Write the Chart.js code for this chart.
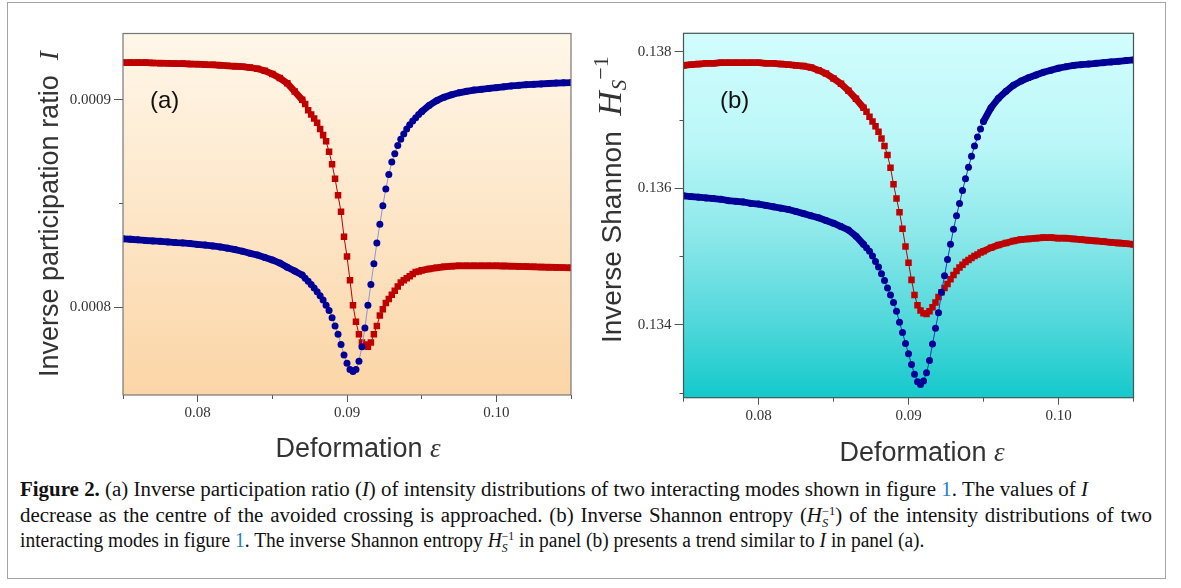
<!DOCTYPE html>
<html>
<head>
<meta charset="utf-8">
<script src="https://cdn.jsdelivr.net/npm/chart.js@4.4.1/dist/chart.umd.min.js"></script>
<style>
  body { margin: 0; background: #fff; }
  #page { position: relative; width: 1181px; height: 588px; overflow: hidden; }
  #frame { position: absolute; left: 7px; top: 2px; width: 1157px; height: 575px; border: 1px solid #a4a4a4; }
  canvas { position: absolute; top: 0; }
  #chartA { left: 0; }
  #chartB { left: 590px; }
  .ytitle { position: absolute; transform-origin: 0 0; transform: rotate(-90deg); white-space: nowrap;
            font: 27px "Liberation Sans", Arial, sans-serif; line-height: 27px; color: #333; }
  .xtitle { position: absolute; white-space: nowrap; font: 27px "Liberation Sans", Arial, sans-serif;
            line-height: 27px; color: #333; transform: translateX(-50%); }
  .math { font-family: "Liberation Serif", serif; font-style: italic; }
  .hb { font-size: 34px; line-height: 0; }
  .sb { font-size: 21px; line-height: 0; vertical-align: -5px; margin-left: 1px; }
  .sp { font-size: 22px; line-height: 0; vertical-align: 13px; font-style: normal; }
  .panel { position: absolute; font: 24px "Liberation Sans", Arial, sans-serif; line-height: 24px; color: #111; }
  .cap { position: absolute; left: 20px; white-space: nowrap; font: 20px "Liberation Serif", serif;
         line-height: 20px; color: #111; transform-origin: 0 0; }
  .lnk { color: #2a7fc1; }
  .st { display: inline-block; vertical-align: -5px; line-height: 1; font-size: 12px; }
  .st span { display: block; }
</style>
</head>
<body>
<div id="page">
  <div id="frame"></div>
  <canvas id="chartA" width="590" height="470"></canvas>
  <canvas id="chartB" width="591" height="470"></canvas>

  <div class="ytitle" style="left:36px; top:377px;">Inverse participation ratio&nbsp; <span class="math">I</span></div>
  <div class="ytitle" style="left:598px; top:343px; font-size:28px; line-height:28px;">Inverse Shannon&nbsp; <span class="math hb">H</span><span class="math sb">S</span><span class="math sp">−1</span></div>
  <div class="xtitle" style="left:358px; top:435px;">Deformation <span class="math">ε</span></div>
  <div class="xtitle" style="left:922px; top:439px;">Deformation <span class="math">ε</span></div>
  <div class="panel" style="left:150px; top:88px;">(a)</div>
  <div class="panel" style="left:720px; top:88px;">(b)</div>

  <div class="cap" style="top:479px;"><b>Figure 2.</b> (a) Inverse participation ratio (<i>I</i>) of intensity distributions of two interacting modes shown in figure <span class="lnk">1</span>. The values of <i>I</i></div>
  <div class="cap" style="top:505px;">decrease as the centre of the avoided crossing is approached. (b) Inverse Shannon entropy (<i>H</i><span class="st"><span>−1</span><span><i>S</i></span></span>) of the intensity distributions of two</div>
  <div class="cap" style="top:530px;">interacting modes in figure <span class="lnk">1</span>. The inverse Shannon entropy <i>H</i><span class="st"><span>−1</span><span><i>S</i></span></span> in panel (b) presents a trend similar to <i>I</i> in panel (a).</div>
</div>

<script>
// deformation values, coarse on the flat parts, fine through the avoided crossing
const epsilon = [
  0.075, 0.0755, 0.076, 0.0765, 0.077, 0.0775, 0.078, 0.0785, 0.079, 0.0795, 0.08, 0.0805,
  0.081, 0.0815, 0.082, 0.0825, 0.083, 0.0835, 0.084, 0.0845, 0.085, 0.0855, 0.086, 0.0865,
  0.087, 0.0872, 0.0874, 0.0876, 0.0878, 0.088, 0.0882, 0.0884, 0.0886, 0.0888, 0.089, 0.0892,
  0.0894, 0.0896, 0.0898, 0.09, 0.0902, 0.0904, 0.0906, 0.0908, 0.091, 0.0912, 0.0914, 0.0916,
  0.0918, 0.092, 0.0922, 0.0924, 0.0926, 0.0928, 0.093, 0.0932, 0.0934, 0.0936, 0.0938, 0.094,
  0.0942, 0.0944, 0.0946, 0.0948, 0.095,
  0.0955, 0.096, 0.0965, 0.097, 0.0975, 0.098, 0.0985, 0.099, 0.0995, 0.1, 0.1005, 0.101,
  0.1015, 0.102, 0.1025, 0.103, 0.1035, 0.104, 0.1045, 0.105,
];

// (a) inverse participation ratio
const iprRed = [
  0.000918, 0.000918, 0.000918, 0.000918, 0.0009178, 0.0009177, 0.0009176, 0.0009175, 0.0009175, 0.0009173, 0.0009172, 0.000917,
  0.0009169, 0.0009167, 0.0009164, 0.0009162, 0.000916, 0.0009156, 0.000915, 0.000914, 0.0009125, 0.0009105, 0.000908, 0.000904,
  0.0009, 0.000898, 0.000895, 0.000893, 0.000891, 0.000889, 0.000886, 0.000883, 0.00088, 0.000875, 0.000869, 0.000862,
  0.000854, 0.000846, 0.000834, 0.0008245, 0.000813, 0.000801, 0.000793, 0.000787, 0.000783, 0.000782, 0.000781, 0.000783,
  0.000787, 0.000791, 0.000796, 0.000799, 0.000802, 0.000804, 0.000806, 0.000808, 0.00081, 0.000812, 0.000813, 0.000814,
  0.000815, 0.000816, 0.000817, 0.0008172, 0.0008178,
  0.0008185, 0.000819, 0.0008195, 0.0008198, 0.00082, 0.00082, 0.00082, 0.00082, 0.00082, 0.00082, 0.0008199, 0.0008198,
  0.0008197, 0.0008196, 0.0008195, 0.0008194, 0.0008193, 0.0008192, 0.0008191, 0.000819,
];
const iprBlue = [
  0.000833, 0.0008328, 0.0008325, 0.0008322, 0.000832, 0.0008318, 0.0008315, 0.0008312, 0.000831, 0.0008307, 0.0008303, 0.00083,
  0.0008296, 0.0008291, 0.0008285, 0.0008278, 0.000827, 0.000826, 0.0008252, 0.000824, 0.0008228, 0.0008213, 0.0008193, 0.0008175,
  0.0008155, 0.000814, 0.0008125, 0.000811, 0.0008093, 0.0008075, 0.0008055, 0.0008035, 0.000801, 0.0007985, 0.000795, 0.000791,
  0.000787, 0.000782, 0.000777, 0.000773, 0.00077, 0.000769, 0.00077, 0.000774, 0.000781, 0.00079, 0.000801, 0.000811,
  0.000821, 0.000831, 0.00084, 0.000849, 0.000857, 0.000864, 0.00087, 0.000874, 0.000878, 0.000881, 0.0008835, 0.000886,
  0.000888, 0.0008898, 0.0008914, 0.0008929, 0.0008943,
  0.0008973, 0.0008996, 0.0009013, 0.0009025, 0.0009034, 0.0009041, 0.0009047, 0.0009051, 0.0009055, 0.0009059, 0.0009063, 0.0009067,
  0.000907, 0.0009073, 0.0009075, 0.0009077, 0.0009079, 0.0009081, 0.0009082, 0.0009083,
];

// (b) inverse Shannon entropy
const shannonRed = [
  0.1378, 0.13781, 0.13782, 0.13783, 0.13783, 0.13784, 0.13784, 0.13784, 0.13784, 0.13784, 0.13784, 0.13783,
  0.13783, 0.13782, 0.13781, 0.1378, 0.13779, 0.13777, 0.13773, 0.13768, 0.13761, 0.13753, 0.13743, 0.13731,
  0.13718, 0.13712, 0.13705, 0.13698, 0.13691, 0.13683, 0.13673, 0.13662, 0.13649, 0.1363, 0.13606, 0.13585,
  0.13565, 0.13541, 0.13515, 0.13491, 0.13466, 0.13444, 0.13429, 0.13421, 0.13417, 0.13416, 0.1342, 0.13426,
  0.13433, 0.13441, 0.13448, 0.13454, 0.1346, 0.13467, 0.13473, 0.13479, 0.13484, 0.13488, 0.13492, 0.13495,
  0.13498, 0.13501, 0.13503, 0.13506, 0.13508,
  0.13513, 0.13517, 0.1352, 0.13523, 0.13525, 0.13526, 0.13527, 0.13528, 0.13528, 0.13527, 0.13527, 0.13526,
  0.13525, 0.13524, 0.13523, 0.13522, 0.13521, 0.1352, 0.13519, 0.13518,
];
const shannonBlue = [
  0.13589, 0.13588, 0.13587, 0.13586, 0.13585, 0.13584, 0.13582, 0.13581, 0.1358, 0.13578, 0.13577, 0.13575,
  0.13573, 0.13571, 0.13569, 0.13566, 0.13563, 0.1356, 0.13557, 0.13553, 0.13549, 0.13544, 0.13539, 0.1353,
  0.13518, 0.13513, 0.13508, 0.13501, 0.13493, 0.13485, 0.13475, 0.13465, 0.13454, 0.13444, 0.13433, 0.1342,
  0.13404, 0.13389, 0.13373, 0.13358, 0.13342, 0.13328, 0.13317, 0.13313, 0.13318, 0.1333, 0.13348, 0.13372,
  0.13395, 0.13418, 0.13448, 0.13472, 0.13496, 0.13518, 0.1354, 0.1356, 0.13578, 0.13597, 0.13614, 0.13631,
  0.13647, 0.13662, 0.13675, 0.13687, 0.13698,
  0.13718, 0.13732, 0.13742, 0.13751, 0.13757, 0.13762, 0.13766, 0.1377, 0.13773, 0.13776, 0.13778, 0.1378,
  0.13781, 0.13782, 0.13783, 0.13784, 0.13785, 0.13786, 0.13787, 0.13788,
];

// ticks
const xMajor = [0.08, 0.09, 0.1];
const xMinor = [0.075, 0.085, 0.095, 0.105];
const iprMajor = [0.0008, 0.0009];
const iprMinor = [0.00085];
const shannonMajor = [0.134, 0.136, 0.138];
const shannonMinor = [0.133, 0.135, 0.137];

const RED = "rgb(190, 0, 0)";
const BLUE = "rgb(0, 0, 150)";

const panelBackground = {
  id: "panelBackground",
  beforeDraw(chart, args, opts) {
    const { ctx, chartArea: a } = chart;
    const g = ctx.createLinearGradient(0, a.top, 0, a.bottom);
    opts.stops.forEach(([p, c]) => g.addColorStop(p, c));
    ctx.save();
    ctx.fillStyle = g;
    ctx.fillRect(a.left, a.top, a.right - a.left, a.bottom - a.top);
    ctx.restore();
  },
  afterDraw(chart, args, opts) {
    const { ctx, chartArea: a } = chart;
    ctx.save();
    ctx.strokeStyle = opts.frame;
    ctx.lineWidth = 1.2;
    ctx.strokeRect(a.left, a.top, a.right - a.left, a.bottom - a.top);
    ctx.restore();
  },
};

const isCoarse = (ctx) => ctx.p1.parsed.x - ctx.p0.parsed.x > 0.0003;

const series = (values, color, lineColor, style, radius) => ({
  data: epsilon.map((x, i) => ({ x, y: values[i] })),
  borderColor: lineColor,
  backgroundColor: color,
  pointBackgroundColor: color,
  pointBorderWidth: 0,
  pointStyle: style,
  pointRadius: radius,
  borderWidth: 1,
  borderCapStyle: "round",
  borderJoinStyle: "round",
  clip: 0,
  segment: {
    borderWidth: (ctx) => (isCoarse(ctx) ? 6.8 : 1),
    borderColor: (ctx) => (isCoarse(ctx) ? color : lineColor),
  },
});

const axis = (o) => ({
  type: "linear",
  position: o.position,
  min: o.min,
  max: o.max,
  weight: o.weight,
  border: { display: false },
  grid: { drawOnChartArea: false, drawTicks: true, tickLength: o.tickLength, tickColor: "#555", tickWidth: 1 },
  ticks: {
    display: o.labels,
    padding: o.padding || 0,
    color: "#333",
    autoSkip: false,
    maxRotation: 0,
    font: { family: "Liberation Serif", size: 15 },
    callback: (v) => v.toFixed(o.digits || 2),
  },
  afterBuildTicks: (scale) => {
    scale.ticks = o.values.map((value) => ({ value }));
  },
  afterFit: (scale) => {
    if (o.position === "left") scale.width = o.size;
    else scale.height = o.size;
  },
});

const createPanel = (id, p) =>
  new Chart(document.getElementById(id), {
    type: "line",
    data: {
      datasets: [
        series(p.blue, BLUE, p.blueLine, "circle", 3.5),
        series(p.red, RED, RED, "rect", 4.6),
      ],
    },
    options: {
      responsive: false,
      animation: false,
      events: [],
      layout: { padding: p.padding },
      plugins: {
        legend: { display: false },
        tooltip: { enabled: false },
        panelBackground: { stops: p.stops, frame: p.frame },
      },
      scales: {
        x: axis({ position: "bottom", min: 0.075, max: 0.105, weight: 1, tickLength: 7, labels: true,
                  padding: 2, digits: 2, values: xMajor, size: 40 }),
        xMinor: axis({ position: "bottom", min: 0.075, max: 0.105, weight: 0, tickLength: 4, labels: false,
                       values: xMinor, size: 0 }),
        y: axis({ position: "left", min: p.yMin, max: p.yMax, weight: 1, tickLength: 9, labels: true,
                  padding: 3, digits: p.digits, values: p.yMajor, size: p.yWidth }),
        yMinor: axis({ position: "left", min: p.yMin, max: p.yMax, weight: 0, tickLength: 4, labels: false,
                       values: p.yMinor, size: 0 }),
      },
    },
    plugins: [panelBackground],
  });

createPanel("chartA", {
  red: iprRed,
  blue: iprBlue,
  blueLine: "rgb(140, 150, 215)",
  yMin: 0.0007577,
  yMax: 0.000932,
  digits: 4,
  yMajor: iprMajor,
  yMinor: iprMinor,
  yWidth: 123,
  padding: { left: 0, top: 33.5, right: 19, bottom: 35 },
  stops: [[0, "#fff7e9"], [0.5, "#fde6c8"], [1, "#fbd5a6"]],
  frame: "#777",
});

createPanel("chartB", {
  red: shannonRed,
  blue: shannonBlue,
  blueLine: "rgb(30, 60, 180)",
  yMin: 0.132935,
  yMax: 0.13827,
  digits: 3,
  yMajor: shannonMajor,
  yMinor: shannonMinor,
  yWidth: 93.5,
  padding: { left: 0, top: 33.3, right: 47.5, bottom: 32.3 },
  stops: [[0, "#d2fdfd"], [0.3, "#bbf7f8"], [0.55, "#8de8ea"], [0.8, "#4fd7da"], [1, "#14c9cb"]],
  frame: "#455",
});

// caption: condensed serif; line 1 sets the squeeze, line 2 is spread to its end, line 3 a little tighter
const fitCaption = () => {
  const lines = [...document.querySelectorAll(".cap")];
  lines.forEach((el) => {
    el.style.transform = "none";
    el.style.wordSpacing = "normal";
  });
  const widths = lines.map((el) => el.getBoundingClientRect().width);
  const k = 1068 / widths[0];
  const gaps = (lines[1].textContent.match(/ /g) || []).length;
  lines[1].style.wordSpacing = `${(1132 - widths[1] * k) / gaps / k}px`;
  lines[0].style.transform = `scaleX(${k})`;
  lines[1].style.transform = `scaleX(${k})`;
  lines[2].style.transform = `scaleX(${k * 0.93})`;
};
fitCaption();
document.fonts.ready.then(fitCaption);
</script>
</body>
</html>
